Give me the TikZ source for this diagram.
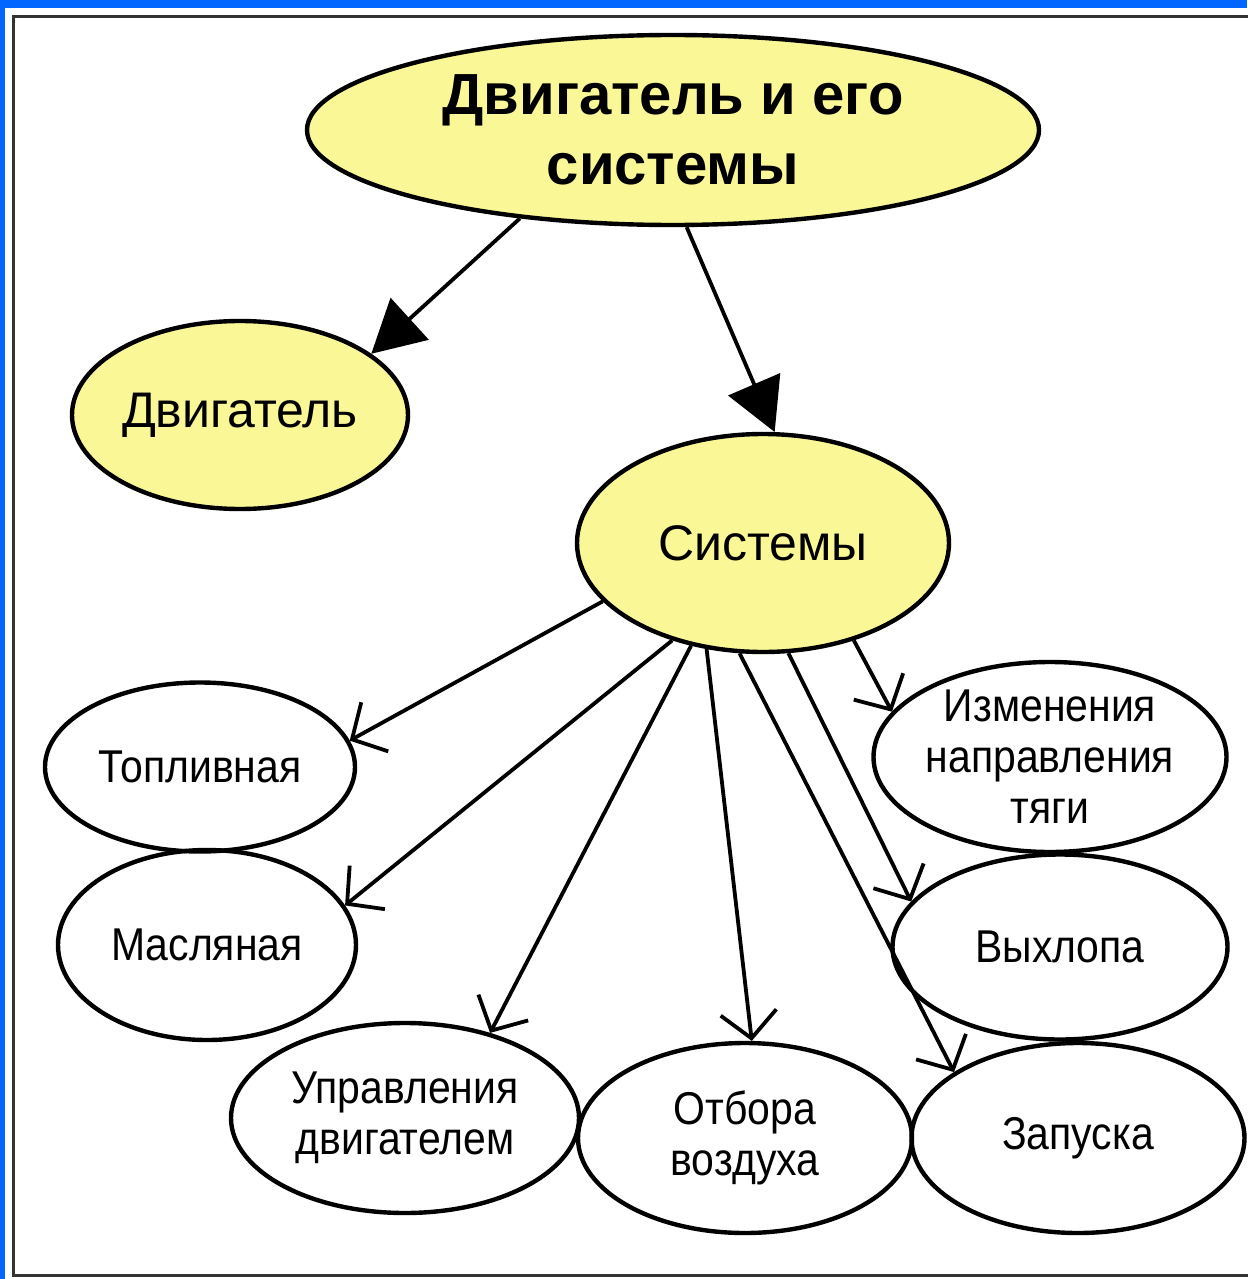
\documentclass[tikz,border=0pt]{standalone}
\usepackage{fontspec}
\setmainfont{Liberation Sans}
\newfontfamily\narrowsans[FakeStretch=0.89]{Liberation Sans}
\usetikzlibrary{shapes.geometric,arrows.meta}
\definecolor{paleyellow}{RGB}{250,248,150}
\definecolor{frameblue}{RGB}{0,102,255}
\begin{document}
\begin{tikzpicture}[
x=0.5pt, y=-0.5pt,
topic/.style={ellipse, draw=black, fill=paleyellow, line width=2.2pt, inner sep=0pt, align=center, font=\fontsize{25}{30}\selectfont},
branch/.style={ellipse, draw=black, line width=2.2pt, inner sep=0pt, align=center, font=\narrowsans\fontsize{23}{25.5}\selectfont},
mainedge/.style={-{Triangle[length=26pt,width=28pt]}, line width=1.9pt},
subedge/.style={-{Straight Barb[length=13pt,width=28pt]}, line width=1.9pt},
]
\useasboundingbox (0,0) rectangle (1247,1279);
\fill[frameblue] (0,0) rectangle (1247,1279);
\fill[white] (5,8) rectangle (1247,1279);
\draw[line width=1.5pt, black!80] (1262,17) -- (13,17) -- (13,1275) -- (1262,1275);
\node[topic, minimum width=366pt, minimum height=95pt, font=\bfseries\fontsize{29}{35}\selectfont] (title) at (673,130) {Двигатель и его\\системы};
\node[topic, minimum width=168pt, minimum height=94pt] (engine) at (240,415) {Двигатель};
\node[topic, minimum width=186pt, minimum height=109pt] (systems) at (763,543) {Системы};
\node[branch, minimum width=155pt, minimum height=84.5pt] (fuel) at (200,767) {Топливная};
\node[branch, minimum width=149pt, minimum height=95pt] (oil) at (207,945) {Масляная};
\node[branch, minimum width=174pt, minimum height=95pt] (control) at (405,1118) {Управления\\двигателем};
\node[branch, minimum width=167pt, minimum height=95pt] (bleed) at (745,1138) {Отбора\\воздуха};
\node[branch, minimum width=166.5pt, minimum height=95pt] (start) at (1078,1138) {Запуска};
\node[branch, minimum width=167.5pt, minimum height=92.5pt] (exhaust) at (1060,947) {Выхлопа};
\node[branch, minimum width=176.5pt, minimum height=95pt] (thrust) at (1050,757) {Изменения\\направления\\тяги};
\draw[mainedge] (title.210) -- (engine.25);
\draw[mainedge] (title.278) -- (systems.84);
\draw[subedge] (systems.200) -- (fuel.10);
\draw[subedge] (systems.227) -- (oil.16);
\draw[subedge] (systems.235) -- (control.45);
\draw[subedge] (systems.242) -- (bleed.86);
\draw[subedge] (systems.258) -- (start.152);
\draw[subedge] (systems.283) -- (exhaust.163);
\draw[subedge] (systems.313) -- (thrust.164);
\end{tikzpicture}
\end{document}
